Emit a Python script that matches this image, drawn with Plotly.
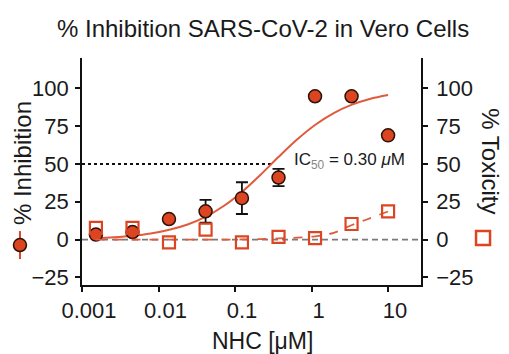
import plotly.graph_objects as go

# ---- data ----
conc = [0.00152, 0.00457, 0.0137, 0.0412, 0.123, 0.370, 1.11, 3.33, 10.0]
inhibition = [3.3, 5.0, 13.6, 18.7, 27.4, 41.0, 94.7, 94.7, 68.9]
inhibition_err = [0, 0, 0, 7.5, 10.5, 5.7, 0, 0, 0]
toxicity = [7.7, 7.7, -1.8, 6.6, -1.8, 1.8, 1.0, 10.3, 18.6]

curve_x = [0.0015, 0.0026, 0.0046, 0.0079, 0.0138, 0.024, 0.041, 0.071, 0.123,
           0.214, 0.372, 0.646, 1.12, 1.95, 3.31, 5.75, 10.0]
inhib_fit = [1.0, 1.6, 2.6, 4.1, 6.5, 10.0, 15.0, 22.2, 31.5, 42.7, 54.7, 66.1,
             75.9, 83.6, 89.0, 92.9, 95.5]
tox_fit = [0, 0, 0, 0, 0, 0, 0, 0, 0.1, 0.3, 0.8, 1.3, 2.2, 4.5, 9.5, 14.0, 18.6]

ic50 = 0.30
ic50_level = 50
x_range_min = 0.001

xtick_vals = [0.001, 0.01, 0.1, 1, 10]
xtick_text = ["0.001", "0.01", "0.1", "1", "10"]
ytick_vals = [-25, 0, 25, 50, 75, 100]

RED = "#DC4521"
RED_LINE = "#E05A3C"
FONT = "Liberation Sans, Arial, sans-serif"

fig = go.Figure()

# zero reference line
fig.add_trace(go.Scatter(x=[x_range_min, 10 ** 1.43], y=[0, 0], mode="lines",
                         line=dict(color="#7a7a7a", width=1.6, dash="6px,4px"),
                         hoverinfo="skip", showlegend=False))
# IC50 dotted line
fig.add_trace(go.Scatter(x=[x_range_min, ic50], y=[ic50_level, ic50_level], mode="lines",
                         line=dict(color="#111111", width=2, dash="dot"),
                         hoverinfo="skip", showlegend=False))
# fits
fig.add_trace(go.Scatter(x=curve_x, y=tox_fit, mode="lines", yaxis="y2",
                         line=dict(color=RED_LINE, width=1.8, dash="dash", shape="spline"),
                         showlegend=False))
fig.add_trace(go.Scatter(x=curve_x, y=inhib_fit, mode="lines",
                         line=dict(color=RED_LINE, width=2, shape="spline"),
                         showlegend=False))
# toxicity squares
fig.add_trace(go.Scatter(x=conc, y=toxicity, mode="markers", yaxis="y2",
                         marker=dict(symbol="square-open", size=12, color=RED,
                                     line=dict(width=2.2, color=RED)),
                         showlegend=False))
# inhibition circles
fig.add_trace(go.Scatter(x=conc, y=inhibition, mode="markers",
                         error_y=dict(type="data", array=inhibition_err, color="#111111",
                                      thickness=1.8, width=6),
                         marker=dict(symbol="circle", size=13, color=RED,
                                     line=dict(width=1.5, color="#2a1208")),
                         showlegend=False))

axis_common = dict(showline=True, linecolor="#111111", linewidth=1.6, ticks="outside",
                   ticklen=5, tickwidth=1.6, tickcolor="#111111", showgrid=False,
                   zeroline=False, tickfont=dict(family=FONT, size=22, color="#1a1a1a"))

fig.update_layout(
    width=509, height=354,
    margin=dict(l=82, r=88, t=58, b=69),
    paper_bgcolor="white", plot_bgcolor="white",
    font=dict(family=FONT, color="#1a1a1a"),
    xaxis=dict(type="log", range=[-3.0, 1.43], tickvals=xtick_vals, ticktext=xtick_text,
               ticklabelshift=7, **axis_common),
    yaxis=dict(range=[-30, 120], tickvals=ytick_vals, ticklabelstandoff=2, **axis_common),
    yaxis2=dict(range=[-30, 120], tickvals=ytick_vals, overlaying="y", side="right",
                ticklabelstandoff=4, **axis_common),
    annotations=[
        dict(text="% Inhibition SARS-CoV-2 in Vero Cells", xref="paper", yref="paper",
             x=0.534, y=1.132, showarrow=False, xanchor="center", yanchor="middle",
             font=dict(size=24, family=FONT, color="#1a1a1a")),
        dict(text="% Inhibition", xref="paper", yref="paper", x=-0.177, y=0.537,
             showarrow=False, textangle=-90, xanchor="center", yanchor="middle",
             font=dict(size=24, family=FONT, color="#1a1a1a")),
        dict(text="% Toxicity", xref="paper", yref="paper", x=1.206, y=0.546,
             showarrow=False, textangle=90, xanchor="center", yanchor="middle",
             font=dict(size=24, family=FONT, color="#1a1a1a")),
        dict(text="NHC [μM]", xref="paper", yref="paper", x=0.531, y=-0.247,
             showarrow=False, xanchor="center", yanchor="middle",
             font=dict(size=23, family=FONT, color="#1a1a1a")),
        dict(text="IC<sub><span style='color:#888888'>50</span></sub> = 0.30 <i>μ</i>M",
             xref="paper", yref="paper", x=0.79, y=0.545, showarrow=False,
             xanchor="center", yanchor="middle",
             font=dict(size=17, family=FONT, color="#1a1a1a")),
    ],
    shapes=[
        # legend glyph: circle with error line (left title)
        dict(type="line", xref="paper", yref="paper", xsizemode="pixel", ysizemode="pixel",
             xanchor=-0.183, yanchor=0.176, x0=0, x1=0, y0=-14, y1=14,
             line=dict(color=RED, width=2)),
        dict(type="circle", xref="paper", yref="paper", xsizemode="pixel", ysizemode="pixel",
             xanchor=-0.183, yanchor=0.176, x0=-6.5, x1=6.5, y0=-6.5, y1=6.5,
             fillcolor=RED, line=dict(color="#2a1208", width=1.5)),
        # legend glyph: open square (right title)
        dict(type="rect", xref="paper", yref="paper", xsizemode="pixel", ysizemode="pixel",
             xanchor=1.183, yanchor=0.207, x0=-7, x1=7, y0=-7, y1=7,
             fillcolor="rgba(0,0,0,0)", line=dict(color=RED, width=2.5)),
    ],
)

fig.write_html("out.html")
